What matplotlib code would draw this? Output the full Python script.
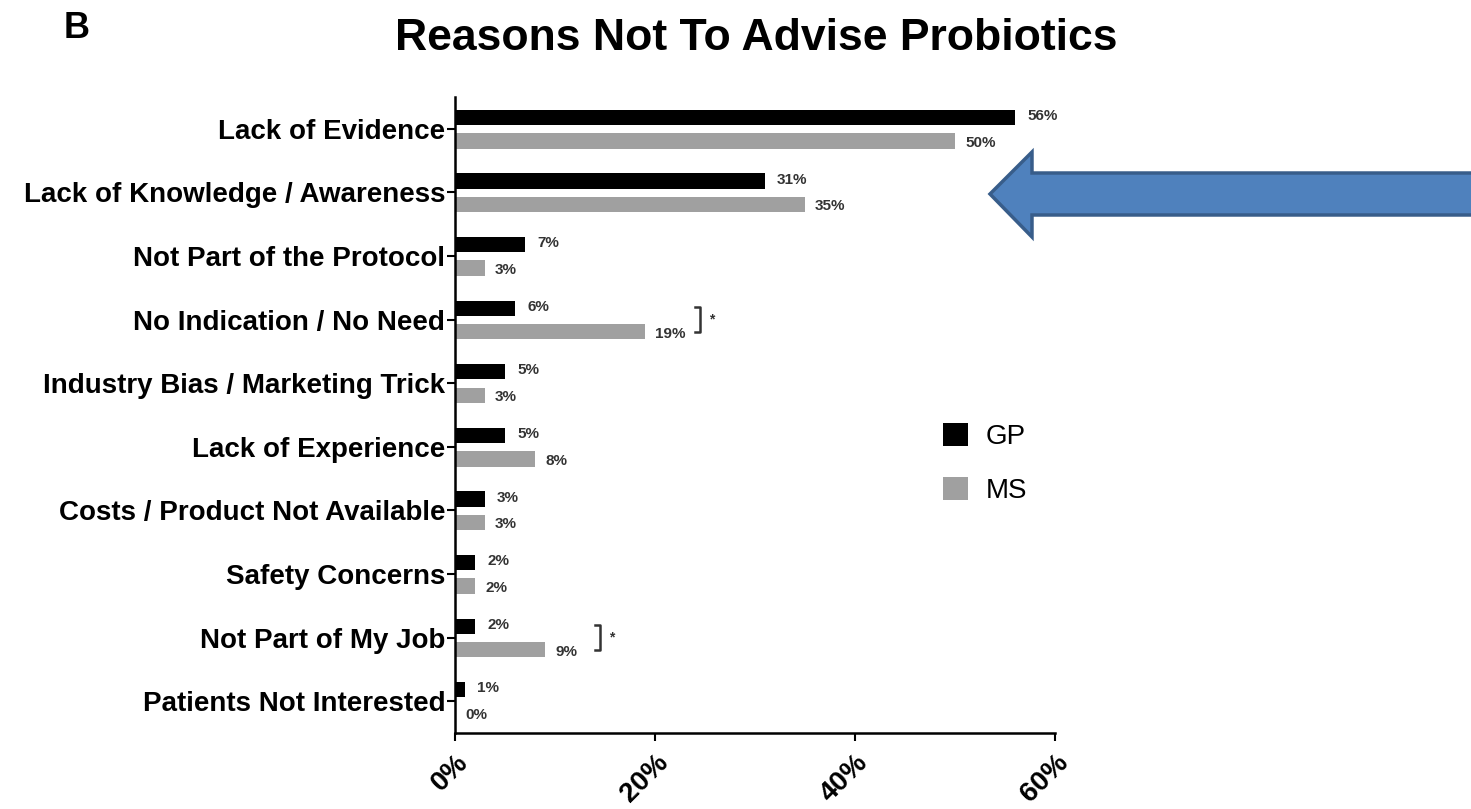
import matplotlib.pyplot as plt
import numpy as np
from matplotlib.patches import Polygon

categories = ['Lack of Evidence', 'Lack of Knowledge / Awareness', 'Not Part of the Protocol',
              'No Indication / No Need', 'Industry Bias / Marketing Trick', 'Lack of Experience',
              'Costs / Product Not Available', 'Safety Concerns', 'Not Part of My Job',
              'Patients Not Interested']
gp = [56, 31, 7, 6, 5, 5, 3, 2, 2, 1]
ms = [50, 35, 3, 19, 3, 8, 3, 2, 9, 0]
significant = [False, False, False, True, False, False, False, False, True, False]
xticks = [0, 20, 40, 60]

plt.rcParams['font.family'] = ['Liberation Sans', 'DejaVu Sans']

W, H = 1471, 809
fig = plt.figure(figsize=(W / 100, H / 100), dpi=100)
ax = fig.add_axes([455 / W, 1 - 733 / H, 600 / W, (733 - 97) / H])

y = np.arange(len(categories))
ax.barh(y - 0.18, gp, height=0.24, color='black', label='GP')
ax.barh(y + 0.19, ms, height=0.24, color='#a0a0a0', label='MS')

for i in range(len(categories)):
    ax.text(gp[i] + 1.2, y[i] - 0.2, f'{gp[i]}%', fontsize=11, fontweight='bold',
            color='#333333', va='center', ha='left')
    ax.text(ms[i] + 1.0, y[i] + 0.22, f'{ms[i]}%', fontsize=11, fontweight='bold',
            color='#333333', va='center', ha='left')
    if significant[i]:
        bx = max(gp[i], ms[i]) + 5.5
        ax.plot([bx - 0.5, bx, bx, bx - 0.5], [y[i] - 0.2, y[i] - 0.2, y[i] + 0.2, y[i] + 0.2],
                color='#333333', lw=1.8, clip_on=False)
        ax.text(bx + 0.9, y[i], '*', fontsize=10, fontweight='bold', color='#333333',
                va='center', ha='left')

ax.set_xlim(0, 60)
ax.set_ylim(len(categories) - 0.5, -0.5)
ax.set_yticks(y)
ax.set_yticklabels(categories, fontsize=20, fontweight='bold')
ax.set_xticks(xticks)
ax.set_xticklabels([f'{t}%' for t in xticks], fontsize=20, fontweight='bold',
                   rotation=45, ha='right', rotation_mode='anchor')
ax.tick_params(axis='y', length=6, width=1.5, pad=1)
ax.tick_params(axis='x', length=6, width=1.5, pad=6)
for s in ['top', 'right']:
    ax.spines[s].set_visible(False)
for s in ['left', 'bottom']:
    ax.spines[s].set_linewidth(1.8)

fig.legend(loc='upper left', bbox_to_anchor=(918 / W, 1 - 398 / H), frameon=False,
           fontsize=20, handlelength=0.9, handleheight=0.9, labelspacing=0.95,
           handletextpad=0.65)

fig.text(756 / W, 1 - 50 / H, 'Reasons Not To Advise Probiotics', fontsize=32,
         fontweight='bold', ha='center', va='baseline')
fig.text(64 / W, 1 - 28 / H, 'B', fontsize=26, fontweight='bold', ha='left', va='center')

# blue arrow pointing at the second category
pts = [(990, 194), (1032, 152), (1032, 173), (1480, 173), (1480, 215), (1032, 215), (1032, 237)]
arrow = Polygon([(px / W, 1 - py / H) for px, py in pts], closed=True,
                transform=fig.transFigure, facecolor='#4f81bd', edgecolor='#385d8a', lw=2.5)
fig.patches.append(arrow)

fig.savefig('out.png', dpi=100)
